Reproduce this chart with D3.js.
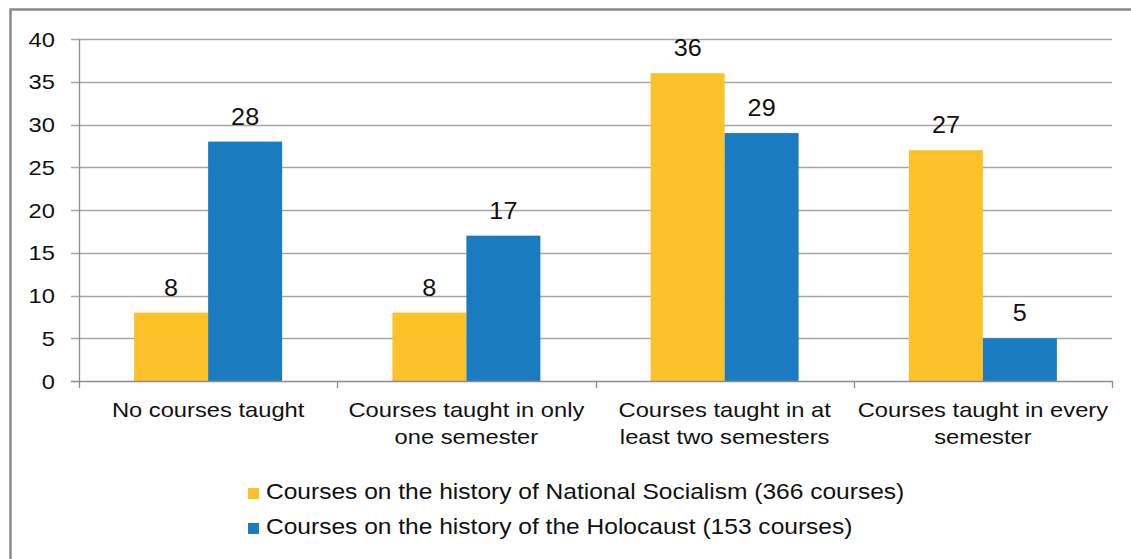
<!DOCTYPE html>
<html><head><meta charset="utf-8">
<script src="https://cdn.jsdelivr.net/npm/d3@7"></script>
<style>
html,body{margin:0;padding:0;background:#fff;}
svg{display:block;}
text{font-family:"Liberation Sans",Arial,sans-serif;fill:#111;}
</style></head>
<body>
<svg id="chart" width="1131" height="559"></svg>
<script>
const categories = [
  ["No courses taught"],
  ["Courses taught in only", "one semester"],
  ["Courses taught in at", "least two semesters"],
  ["Courses taught in every", "semester"]
];
const seriesNames = [
  "Courses on the history of National Socialism (366 courses)",
  "Courses on the history of the Holocaust (153 courses)"
];
const nationalSocialism = [8, 8, 36, 27];
const holocaust = [28, 17, 29, 5];
const yTicks = [0, 5, 10, 15, 20, 25, 30, 35, 40];
const colors = ["#FDC12A", "#1B7BC1"];

const SX = 1.13; // horizontal text stretch of the original
const svg = d3.select("#chart");
const pLeft = 79, pRight = 1112, pTop = 39, pBottom = 381;

svg.append("rect").attr("x", 10.5).attr("y", 9.5).attr("width", 1300).attr("height", 700)
  .attr("fill", "none").attr("stroke", "#8a8a8a").attr("stroke-width", 2.5);

const keys = categories.map((c, i) => i);
const x = d3.scaleBand().domain(keys).range([pLeft, pRight]).paddingInner(0).paddingOuter(0);
const x1 = d3.scaleBand().domain([0, 1]).range([0, x.bandwidth()]).paddingInner(0).paddingOuter(0.745);
const y = d3.scaleLinear().domain([0, 40]).range([pBottom, pTop]);

function stext(sel, px, py, sx) {
  return sel.attr("transform", `translate(${px},${py}) scale(${sx || SX},1)`);
}

// gridlines
svg.append("g").selectAll("line").data(yTicks.filter(t => t > 0)).join("line")
  .attr("x1", pLeft - 8).attr("x2", pRight)
  .attr("y1", d => Math.round(y(d)) + 0.5).attr("y2", d => Math.round(y(d)) + 0.5)
  .attr("stroke", "#a6a6a6").attr("stroke-width", 1.3);

// y tick labels
svg.append("g").selectAll("text").data(yTicks).join("text")
  .each(function(d) { stext(d3.select(this), 55, y(d) + 7.5); })
  .attr("text-anchor", "end").attr("font-size", 21).text(d => d);

// bars
const data = [nationalSocialism, holocaust];
const g = svg.append("g");
keys.forEach(i => {
  [0, 1].forEach(s => {
    const v = data[s][i];
    const bx = x(i) + x1(s);
    g.append("rect").attr("x", bx).attr("y", y(v))
      .attr("width", x1.bandwidth()).attr("height", y(0) - y(v))
      .attr("fill", colors[s]);
    stext(g.append("text"), bx + x1.bandwidth() / 2, y(v) - 17, 1.05)
      .attr("text-anchor", "middle").attr("font-size", 24).text(v);
  });
});

// axes lines
svg.append("line").attr("x1", pLeft - 8).attr("x2", pRight).attr("y1", pBottom + 0.5).attr("y2", pBottom + 0.5)
  .attr("stroke", "#8c8c8c").attr("stroke-width", 1.3);
svg.append("line").attr("x1", pLeft + 0.5).attr("x2", pLeft + 0.5).attr("y1", pTop).attr("y2", pBottom + 7)
  .attr("stroke", "#8c8c8c").attr("stroke-width", 1.3);
svg.append("g").selectAll("line").data(keys.slice(1).concat([keys.length])).join("line")
  .attr("x1", d => Math.round(d < keys.length ? x(d) : pRight) + 0.5)
  .attr("x2", d => Math.round(d < keys.length ? x(d) : pRight) + 0.5)
  .attr("y1", pBottom).attr("y2", pBottom + 7)
  .attr("stroke", "#8c8c8c").attr("stroke-width", 1.3);

// category labels
keys.forEach(i => {
  categories[i].forEach((line, j) => {
    stext(svg.append("text"), x(i) + x.bandwidth() / 2, 417 + j * 27)
      .attr("text-anchor", "middle").attr("font-size", 21).text(line);
  });
});

// legend
seriesNames.forEach((name, s) => {
  const ly = 499 + s * 35;
  svg.append("rect").attr("x", 248).attr("y", ly - 11).attr("width", 11).attr("height", 11).attr("fill", colors[s]);
  stext(svg.append("text"), 266, ly, 1.116).attr("font-size", 22).text(name);
});
</script>
</body></html>
